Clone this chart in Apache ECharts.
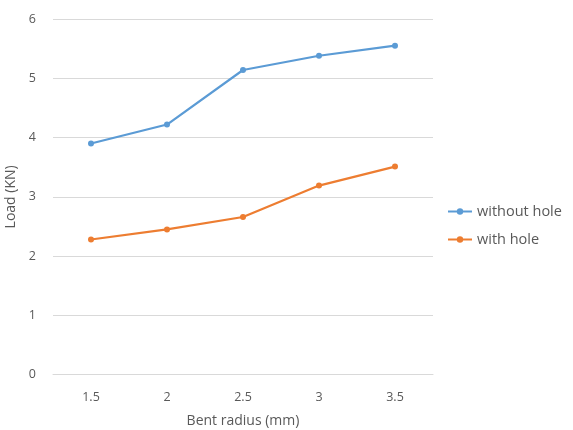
<!DOCTYPE html>
<html><head><meta charset="utf-8">
<script src="https://cdn.jsdelivr.net/npm/echarts@6/dist/echarts.min.js"></script>
<style>html,body{margin:0;padding:0;background:#fff}#c{width:573px;height:430px}</style>
</head><body><div id="c"></div>
<script>
const categories = ['1.5','2','2.5','3','3.5'];
const withoutHole = [3.9, 4.22, 5.14, 5.38, 5.55];
const withHole = [2.28, 2.45, 2.66, 3.19, 3.51];
const seriesNames = ['without hole','with hole'];
const yTicks = {min:0, max:6, interval:1};

const font = '"Open Sans", "Liberation Sans", sans-serif';
const chart = echarts.init(document.getElementById('c'), null, {renderer:'canvas'});
chart.setOption({
  animation:false,
  textStyle:{fontFamily:font},
  grid:{left:53, right:140, top:19, bottom:55.3, outerBoundsMode:'none', containLabel:false},
  legend:{
    orient:'vertical', left:442, top:199, itemGap:13,
    itemWidth:24, itemHeight:8,
    textStyle:{color:'#595959', fontSize:14.5, fontFamily:font},
    data:seriesNames
  },
  xAxis:{
    type:'category', data:categories, boundaryGap:true,
    name:'Bent radius (mm)', nameLocation:'middle', nameGap:39,
    nameTextStyle:{color:'#595959', fontSize:14, fontFamily:font},
    axisLine:{lineStyle:{color:'#d9d9d9'}},
    axisTick:{show:false},
    axisLabel:{color:'#595959', fontSize:12.5, margin:16, fontFamily:font},
    splitLine:{show:false}
  },
  yAxis:{
    type:'value', min:yTicks.min, max:yTicks.max, interval:yTicks.interval,
    name:'Load (KN)', nameLocation:'middle', nameGap:31, nameRotate:90,
    nameTextStyle:{color:'#595959', fontSize:14, fontFamily:font},
    axisLine:{show:false}, axisTick:{show:false},
    axisLabel:{color:'#595959', fontSize:12.5, margin:17, fontFamily:font},
    splitLine:{lineStyle:{color:'#d9d9d9'}}
  },
  series:[
    {name:seriesNames[0], type:'line', data:withoutHole, color:'#5b9bd5',
     symbol:'circle', symbolSize:6, lineStyle:{width:2.2}},
    {name:seriesNames[1], type:'line', data:withHole, color:'#ed7d31',
     symbol:'circle', symbolSize:6, lineStyle:{width:2.2}}
  ]
});
</script></body></html>
